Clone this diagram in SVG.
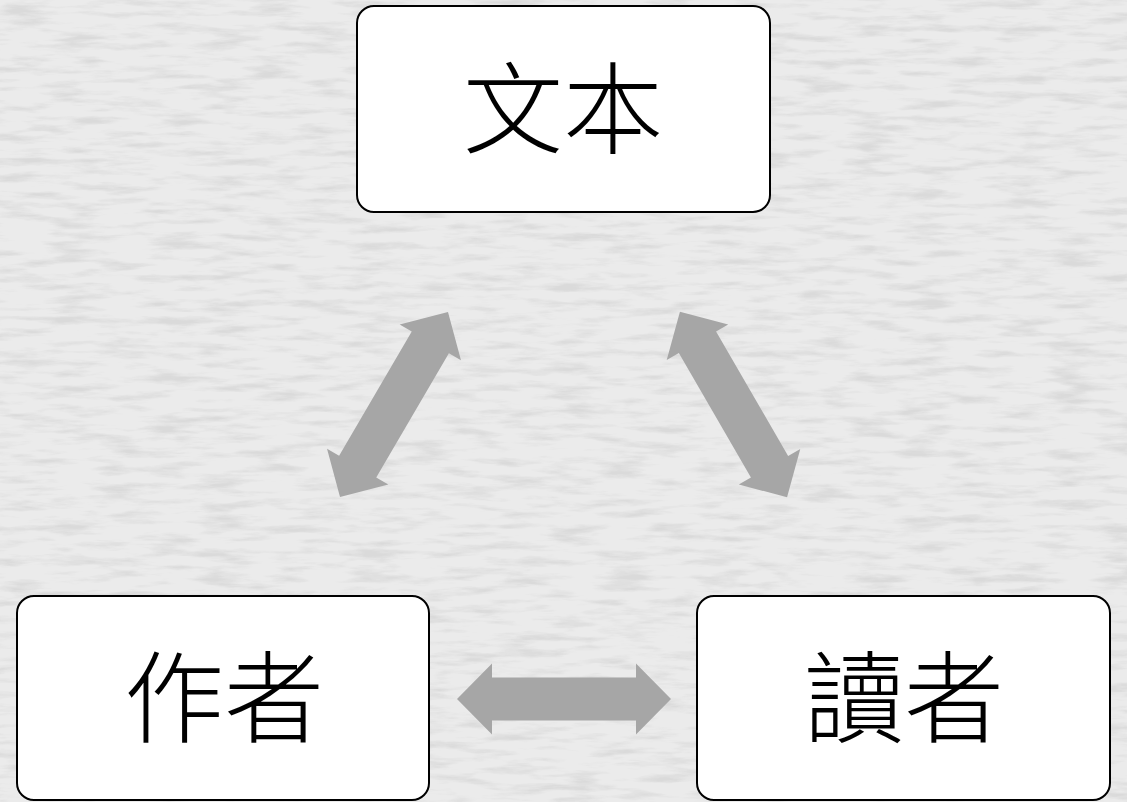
<svg xmlns="http://www.w3.org/2000/svg" width="1127" height="802" viewBox="0 0 1127 802">
<style>
.box{fill:#ffffff;stroke:#000000;stroke-width:2}
.lbl{font-family:"Liberation Serif","Noto Sans CJK TC",serif;font-size:100px;font-weight:300;fill:#000000;text-anchor:middle;dominant-baseline:central}
.arr{fill:#a6a6a6}
</style>
<defs>
<filter id="tex" x="0" y="0" width="100%" height="100%">
<feTurbulence type="fractalNoise" baseFrequency="0.02 0.12" numOctaves="4" seed="11" result="n"/>
<feColorMatrix in="n" type="matrix" values="0 0 0 0 0.5  0 0 0 0 0.5  0 0 0 0 0.5  0 0 0 -3 1.6" result="m"/>
<feComposite in="m" in2="SourceGraphic" operator="in"/>
</filter>
<path id="dblarrow" d="M-107,0 L-72,-35.5 L-72,-21.5 L72,-21.5 L72,-35.5 L107,0 L72,35.5 L72,21.5 L-72,21.5 L-72,35.5 Z"/>
</defs>
<g id="background">
<rect x="0" y="0" width="1127" height="802" fill="#ebebeb"/>
<rect x="0" y="0" width="1127" height="802" fill="#ebebeb" filter="url(#tex)" opacity="0.35"/>
</g>
<g id="connectors">
<use href="#dblarrow" class="arr" transform="translate(394,404.5) rotate(-59.7)"/>
<use href="#dblarrow" class="arr" transform="translate(733.5,404.5) rotate(59.96)"/>
<use href="#dblarrow" class="arr" transform="translate(564,699)"/>
</g>
<g id="node-text">
<rect class="box" x="357" y="6" width="413" height="206" rx="17"/>
<text class="lbl" x="563" y="112">文本</text>
</g>
<g id="node-author">
<rect class="box" x="17" y="596" width="412" height="204" rx="17"/>
<text class="lbl" x="224" y="701">作者</text>
</g>
<g id="node-reader">
<rect class="box" x="697" y="596" width="413" height="204" rx="17"/>
<text class="lbl" x="904" y="701">讀者</text>
</g>
</svg>
